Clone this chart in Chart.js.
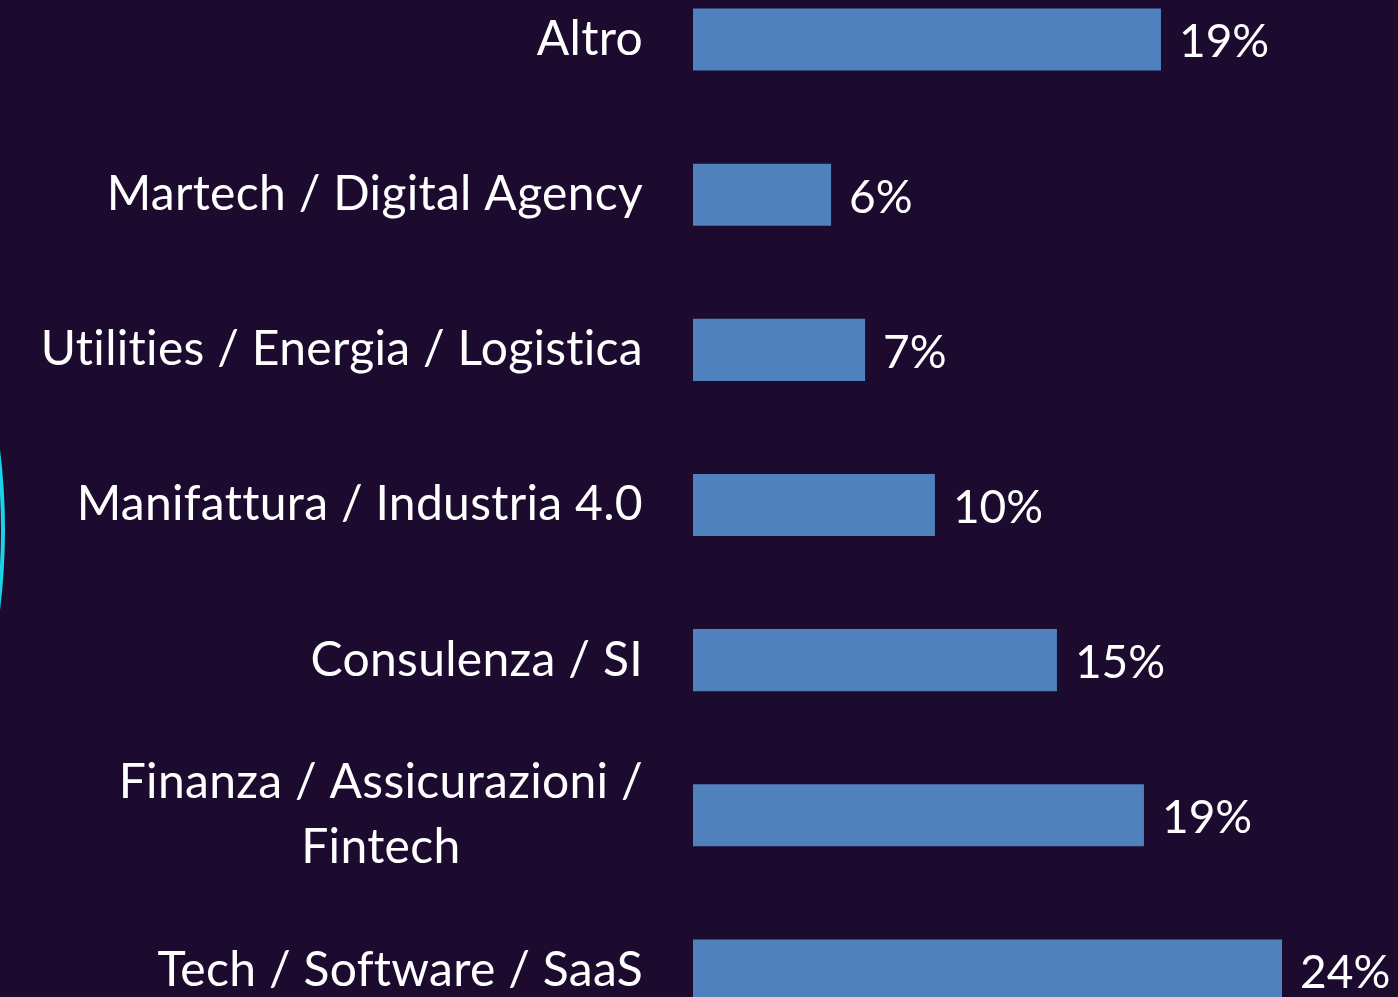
<!DOCTYPE html>
<html>
<head>
<meta charset="utf-8">
<script src="https://cdn.jsdelivr.net/npm/chart.js@4/dist/chart.umd.min.js"></script>
<style>
  html, body { margin:0; padding:0; background:#1c0b2e; overflow:hidden; }
  #wrap { position:relative; width:1398px; height:997px; overflow:hidden; }
  #grafico { position:absolute; left:0; top:-38px; }
</style>
</head>
<body>
<div id="wrap"><canvas id="grafico" width="1398" height="1086"></canvas></div>
<script>
var categorie = [
  ['Altro'],
  ['Martech / Digital Agency'],
  ['Utilities / Energia / Logistica'],
  ['Manifattura / Industria 4.0'],
  ['Consulenza / SI'],
  ['Finanza / Assicurazioni /', 'Fintech'],
  ['Tech / Software / SaaS']
];
var valori = [19.25, 5.68, 7.08, 9.95, 14.97, 18.55, 24.23];
var etichette = ['19%', '6%', '7%', '10%', '15%', '19%', '24%'];

var FONT_ASSE = '48px Lato';
var FONT_VAL = '46px Lato';

// tick labels: block right aligned, lines centered inside the block
var etichetteAsse = {
  id: 'etichetteAsse',
  afterDraw: function(chart) {
    var ctx = chart.ctx;
    var y = chart.scales.y;
    ctx.save();
    ctx.font = FONT_ASSE;
    ctx.letterSpacing = '0.3px';
    ctx.fillStyle = '#ffffff';
    ctx.textAlign = 'center';
    ctx.textBaseline = 'middle';
    for (var i = 0; i < categorie.length; i++) {
      var righe = categorie[i];
      var larg = 0;
      righe.forEach(function(r){ larg = Math.max(larg, ctx.measureText(r).width); });
      var cx = chart.chartArea.left - 50 - larg / 2;
      var cy = y.getPixelForTick(i);
      var lh = 65;
      var y0 = cy - (righe.length - 1) * lh / 2;
      for (var j = 0; j < righe.length; j++) {
        ctx.fillText(righe[j], cx, y0 + j * lh);
      }
    }
    ctx.restore();
  }
};

var valoriBarre = {
  id: 'valoriBarre',
  afterDatasetsDraw: function(chart) {
    var ctx = chart.ctx;
    var meta = chart.getDatasetMeta(0);
    ctx.save();
    ctx.font = FONT_VAL;
    ctx.fillStyle = '#ffffff';
    ctx.textAlign = 'left';
    ctx.textBaseline = 'middle';
    meta.data.forEach(function(bar, i) {
      ctx.fillText(etichette[i], bar.x + 18, bar.y + 3);
    });
    ctx.restore();
  }
};

// cyan arc on the left edge
var arco = {
  id: 'arco',
  beforeDraw: function(chart) {
    var ctx = chart.ctx;
    ctx.save();
    ctx.strokeStyle = '#1bd3e6';
    ctx.lineWidth = 4;
    ctx.beginPath();
    ctx.arc(-640, 568, 643, -0.3, 0.3);
    ctx.stroke();
    ctx.restore();
  }
};

var config = {
  type: 'bar',
  data: {
    labels: categorie,
    datasets: [{
      data: valori,
      backgroundColor: '#4f81bd',
      borderWidth: 0,
      categoryPercentage: 1,
      barPercentage: 0.4
    }]
  },
  options: {
    indexAxis: 'y',
    responsive: false,
    animation: false,
    layout: { padding: 0 },
    plugins: { legend: { display: false }, tooltip: { enabled: false } },
    scales: {
      x: { display: false, min: 0, max: 29 },
      y: {
        display: true,
        grid: { display: false },
        border: { display: false },
        ticks: { display: false },
        afterFit: function(s) { s.width = 693; }
      }
    }
  },
  plugins: [arco, valoriBarre, etichetteAsse]
};

var ctx = document.getElementById('grafico');
var myChart = new Chart(ctx, config);
</script>
</body>
</html>
